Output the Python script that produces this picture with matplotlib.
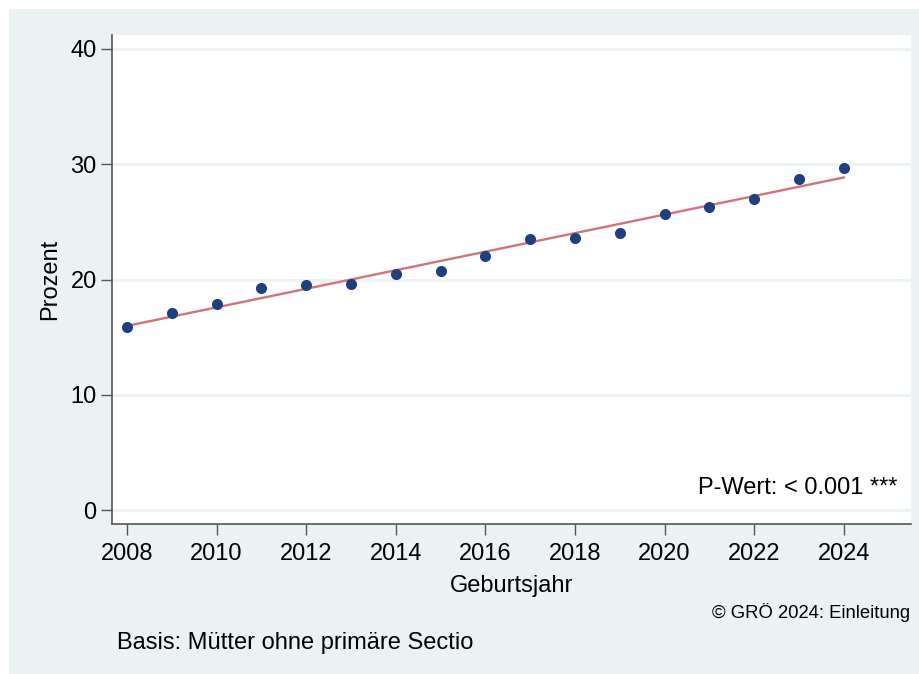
import matplotlib
matplotlib.use('Agg')
import matplotlib.pyplot as plt
from matplotlib.patches import Rectangle
import numpy as np

plt.rcParams['font.family'] = ['Liberation Sans', 'DejaVu Sans']

years = [2008, 2009, 2010, 2011, 2012, 2013, 2014, 2015, 2016,
         2017, 2018, 2019, 2020, 2021, 2022, 2023, 2024]
prozent = [15.9, 17.1, 17.9, 19.3, 19.5, 19.6, 20.5, 20.7, 22.0,
           23.5, 23.6, 24.0, 25.7, 26.3, 27.0, 28.7, 29.7]
x_ticks = list(range(2008, 2025, 2))
y_ticks = [0, 10, 20, 30, 40]

bg = '#eaf2f3'
navy = '#1f3f7f'
fit_col = '#d0737c'
fs = 17

fig = plt.figure(figsize=(9.2, 6.74), dpi=100)
fig.patch.set_facecolor('white')
# outer graph region (white margin top/left like the original)
fig.patches.append(Rectangle((9 / 920, 0), 1, 1 - 9 / 674, transform=fig.transFigure,
                             facecolor=bg, edgecolor='none', zorder=-10))

ax = fig.add_axes([112 / 920, 1 - 524 / 674, (911 - 112) / 920, (524 - 35) / 674])
ax.set_facecolor('white')

# linear trend
coef = np.polyfit(years, prozent, 1)
fx = np.array([years[0], years[-1]])
ax.plot(fx, np.polyval(coef, fx), color=fit_col, lw=1.7, zorder=2)
ax.plot(years, prozent, 'o', color=navy, ms=8, mec='none', zorder=3)

ax.set_xlim(2007.665, 2025.5)
ax.set_ylim(-1.2, 41.2)
ax.set_xticks(x_ticks)
ax.set_yticks(y_ticks)
ax.grid(axis='y', color=bg, lw=2, zorder=0)
ax.set_axisbelow(True)

for s in ['top', 'right']:
    ax.spines[s].set_visible(False)
for s in ['left', 'bottom']:
    ax.spines[s].set_color('#555555')
    ax.spines[s].set_linewidth(1.2)
ax.tick_params(axis='y', length=8, width=1, color='#555555', labelsize=fs, pad=3)
ax.tick_params(axis='x', length=8, width=1, color='#555555', labelsize=fs, pad=6)

ax.set_xlabel('Geburtsjahr', fontsize=fs, labelpad=7)
ax.set_ylabel('Prozent', fontsize=fs, labelpad=7)

ax.text(0.983, 0.073, 'P-Wert: < 0.001 ***', transform=ax.transAxes,
        ha='right', va='center', fontsize=fs)

fig.text(910 / 920, 1 - 613 / 674, '© GRÖ 2024: Einleitung', ha='right', va='center', fontsize=13.3)
fig.text(117 / 920, 1 - 643 / 674, 'Basis: Mütter ohne primäre Sectio', ha='left', va='center', fontsize=fs)

fig.savefig('out.png', dpi=100, facecolor=fig.get_facecolor())
plt.close(fig)
